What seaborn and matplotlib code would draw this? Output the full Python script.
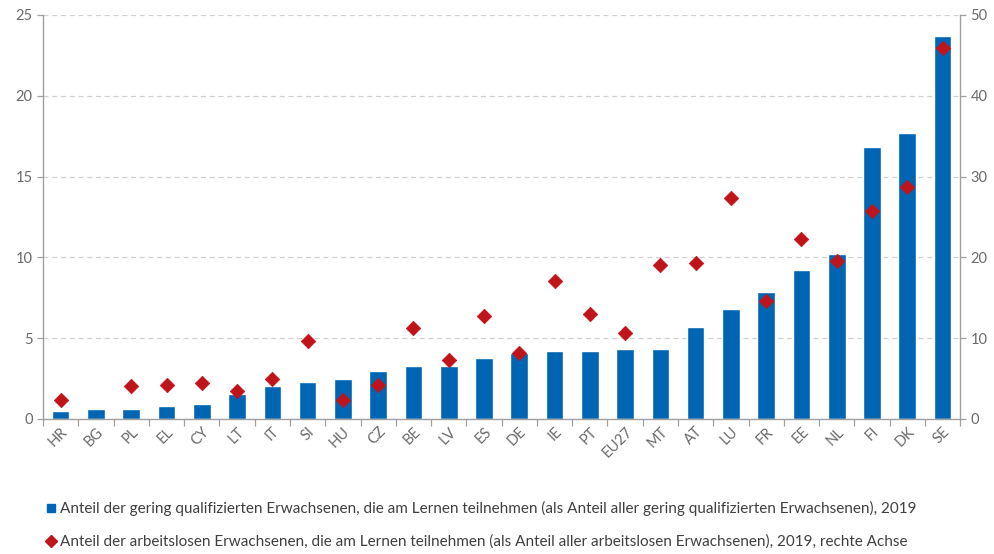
import numpy as np
import pandas as pd
import seaborn as sns
import matplotlib.pyplot as plt
from matplotlib.lines import Line2D

countries = ["HR", "BG", "PL", "EL", "CY", "LT", "IT", "SI", "HU", "CZ", "BE", "LV", "ES",
             "DE", "IE", "PT", "EU27", "MT", "AT", "LU", "FR", "EE", "NL", "FI", "DK", "SE"]
low_qualified = [0.5, 0.6, 0.6, 0.8, 0.95, 1.55, 2.05, 2.3, 2.45, 3.0, 3.3, 3.3, 3.8,
                 4.1, 4.2, 4.2, 4.3, 4.3, 5.7, 6.8, 7.85, 9.2, 10.2, 16.8, 17.7, 23.7]
unemployed = [2.4, np.nan, 4.1, 4.2, 4.5, 3.5, 5.0, 9.7, 2.4, 4.2, 11.3, 7.3, 12.8,
              8.2, 17.1, 13.0, 10.7, 19.1, 19.3, 27.3, 14.6, 22.3, 19.5, 25.8, 28.7, 45.9]

label_bar = ("Anteil der gering qualifizierten Erwachsenen, die am Lernen teilnehmen "
             "(als Anteil aller gering qualifizierten Erwachsenen), 2019")
label_dia = ("Anteil der arbeitslosen Erwachsenen, die am Lernen teilnehmen "
             "(als Anteil aller arbeitslosen Erwachsenen), 2019, rechte Achse")

blue = "#0066b3"
red = "#c0141c"
grey = "#8a8a8a"

df = pd.DataFrame({"land": countries, "low": low_qualified, "unemp": unemployed})

sns.set_theme(style="white")
plt.rcParams["font.family"] = ["Lato", "DejaVu Sans"]

fig = plt.figure(figsize=(9.94, 5.54), dpi=100)
ax = fig.add_axes([0.0433, 0.2437, 0.9227, 0.7293])

sns.barplot(data=df, x="land", y="low", color=blue, saturation=1, width=0.5, ax=ax)
ax.set_ylim(0, 25)
ax.set_xlim(-0.5, len(countries) - 0.5)
ax.set_yticks(range(0, 26, 5))
ax.yaxis.grid(True, linestyle=(0, (4, 3)), color="#d0d0d0", linewidth=0.9)
ax.set_axisbelow(True)
ax.set_xlabel("")
ax.set_ylabel("")

ax2 = ax.twinx()
sns.scatterplot(data=df, x="land", y="unemp", marker="D", s=55, color=red,
                edgecolor=red, linewidth=0.5, ax=ax2, zorder=5)
ax2.set_ylim(0, 50)
ax2.set_yticks(range(0, 51, 10))
ax2.set_ylabel("")
ax2.set_xlim(-0.5, len(countries) - 0.5)

for a in (ax, ax2):
    for s in a.spines.values():
        s.set_visible(False)
    a.tick_params(axis="y", colors="#a0a0a0", labelcolor="#6a6a6a", labelsize=10.5,
                  length=4, width=0.9, direction="out")
ax.spines["left"].set_visible(True)
ax.spines["bottom"].set_visible(True)
ax2.spines["right"].set_visible(True)
for s in (ax.spines["left"], ax.spines["bottom"], ax2.spines["right"]):
    s.set_color("#a0a0a0")
    s.set_linewidth(1.0)
ax.tick_params(axis="y", left=True)
ax2.tick_params(axis="y", right=True)

ax.set_xticks(np.arange(-0.5, len(countries), 1.0), minor=True)
ax.tick_params(axis="x", which="minor", length=5, width=0.9, color="#a0a0a0", bottom=True)
ax.tick_params(axis="x", which="major", length=0, labelcolor="#6a6a6a", labelsize=10.5, pad=4)
plt.setp(ax.get_xticklabels(), rotation=45, ha="right", rotation_mode="anchor")

handles = [Line2D([0], [0], marker="s", linestyle="", markersize=6, color=blue),
           Line2D([0], [0], marker="D", linestyle="", markersize=6, color=red)]
fig.legend(handles, [label_bar, label_dia], loc="upper left",
           bbox_to_anchor=(0.033, 0.12), frameon=False, fontsize=11,
           handlelength=0.6, handletextpad=0.3, labelspacing=1.2, labelcolor="#404040")

fig.savefig("out.png", dpi=100)
